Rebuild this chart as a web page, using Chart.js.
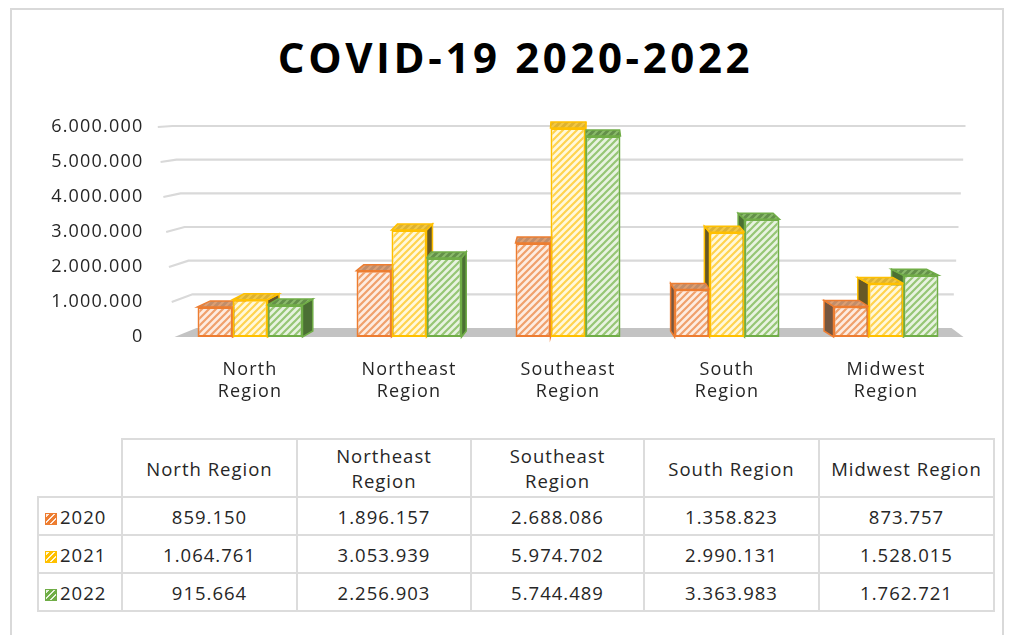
<!DOCTYPE html>
<html>
<head>
<meta charset="utf-8">
<script src="https://cdn.jsdelivr.net/npm/chart.js@4/dist/chart.umd.min.js"></script>
<style>
  html, body { margin: 0; padding: 0; background: #fff; }
  body { position: relative; width: 1010px; height: 635px; overflow: hidden; font-family: "Open Sans", sans-serif; color: #262626; }
  #frame { position: absolute; left: 10px; top: 8px; width: 994px; height: 660px; border: 2px solid #d9d9d9; box-sizing: border-box; }
  #title { position: absolute; left: 0; top: 36px; width: 1031px; text-align: center; font: 700 42px/42px "Open Sans", sans-serif; letter-spacing: 3.6px; color: #000; }
  #chartBox { position: absolute; left: 0; top: 0; width: 1010px; height: 430px; }
  #dataTable { position: absolute; left: 37px; top: 438px; border-collapse: collapse; table-layout: fixed; width: 956px;
               font: 400 18.5px "Open Sans", sans-serif; letter-spacing: 1px; color: #262626; }
  #dataTable td, #dataTable th { border: 2px solid #dcdcdc; text-align: center; padding: 0; font-weight: 400; }
  #dataTable th { height: 56px; line-height: 25px; }
  #dataTable td { height: 36px; }
  #dataTable th.corner { border-top: none; border-left: none; }
  #dataTable td.key { text-align: left; padding-left: 6px; white-space: nowrap; }
  .swatch { display: inline-block; width: 10px; height: 10px; margin-right: 3px; vertical-align: -1px; border: 1.5px solid; }
</style>
</head>
<body>
<div id="frame"></div>
<div id="title">COVID-19 2020-2022</div>
<div id="chartBox"><canvas id="chart" width="1010" height="430"></canvas></div>
<table id="dataTable"></table>
<script>
// ---- data ----
const regions = ['North Region', 'Northeast Region', 'Southeast Region', 'South Region', 'Midwest Region'];
const axisLabels = [['North', 'Region'], ['Northeast', 'Region'], ['Southeast', 'Region'], ['South', 'Region'], ['Midwest', 'Region']];
const tableHeaders = [['North Region'], ['Northeast', 'Region'], ['Southeast', 'Region'], ['South Region'], ['Midwest Region']];
const years = ['2020', '2021', '2022'];
const cases2020 = [859150, 1896157, 2688086, 1358823, 873757];
const cases2021 = [1064761, 3053939, 5974702, 2990131, 1528015];
const cases2022 = [915664, 2256903, 5744489, 3363983, 1762721];
const yTickValues = [0, 1000000, 2000000, 3000000, 4000000, 5000000, 6000000];

// ---- styling per series ----
const seriesStyle = [
  { line: '#ED7D31', bg: '#fdece1', stripe: '#f0a06c', topBg: '#c08d6b', topStripe: '#dc9f74', side: '#76563f' },
  { line: '#FFC000', bg: '#fff8dc', stripe: '#ffd34f', topBg: '#dcb232', topStripe: '#f2c845', side: '#665826' },
  { line: '#70AD47', bg: '#e8f3e0', stripe: '#96c675', topBg: '#64904a', topStripe: '#8aba6a', side: '#4b7034' }
];

function fmt(n) { return String(n).replace(/\B(?=(\d{3})+(?!\d))/g, '.'); }

// diagonal hatch tile ("/" stripes)
function hatch(bg, fg, size, lw) {
  const c = document.createElement('canvas');
  c.width = size; c.height = size;
  const g = c.getContext('2d');
  g.fillStyle = bg; g.fillRect(0, 0, size, size);
  g.strokeStyle = fg; g.lineWidth = lw; g.lineCap = 'square';
  g.beginPath();
  g.moveTo(0, size); g.lineTo(size, 0);
  g.moveTo(-size / 2, size / 2); g.lineTo(size / 2, -size / 2);
  g.moveTo(size / 2, size * 1.5); g.lineTo(size * 1.5, size / 2);
  g.stroke();
  return g.createPattern(c, 'repeat');
}

const ctx = document.getElementById('chart').getContext('2d');
const frontFills = seriesStyle.map(s => hatch(s.bg, s.stripe, 7, 2.2));
const topFills = seriesStyle.map(s => hatch(s.topBg, s.topStripe, 7, 2));

// ---- table under the chart ----
(function buildTable() {
  const t = document.getElementById('dataTable');
  let html = '<colgroup><col style="width:84px">' +
    '<col style="width:175px"><col style="width:174px"><col style="width:173px"><col style="width:175px"><col style="width:175px"></colgroup>';
  html += '<tr><th class="corner"></th>' + tableHeaders.map(h => '<th>' + h.join('<br>') + '</th>').join('') + '</tr>';
  const rows = [cases2020, cases2021, cases2022];
  rows.forEach((vals, i) => {
    const s = seriesStyle[i];
    const sw = '<span class="swatch" style="border-color:' + s.line + ';background:repeating-linear-gradient(-45deg,' +
      s.line + ' 0 3px,' + s.bg + ' 3px 4.5px)"></span>';
    html += '<tr><td class="key">' + sw + years[i] + '</td>' + vals.map(v => '<td>' + fmt(v) + '</td>').join('') + '</tr>';
  });
  t.innerHTML = html;
})();

// back wall gridlines, floor and the extruded faces of each column
const depthPlugin = {
  id: 'depth3d',
  beforeDraw(chart) { chart.ctx.letterSpacing = '1.2px'; },
  beforeDatasetsDraw(chart) {
    const c = chart.ctx;
    const area = chart.chartArea;
    const y = chart.scales.y;
    const bottom = area.bottom;
    const h = area.bottom - area.top;
    const backDrop = 9;
    const backScale = 0.962;
    c.save();
    // floor
    c.fillStyle = '#c3c3c3';
    c.beginPath();
    c.moveTo(area.left + 26, bottom - backDrop);
    c.lineTo(area.right - 14, bottom - backDrop);
    c.lineTo(area.right - 2, bottom);
    c.lineTo(area.left + 4, bottom);
    c.closePath();
    c.fill();
    // gridlines on the side and back walls
    c.strokeStyle = '#d9d9d9';
    c.lineWidth = 2.2;
    yTickValues.forEach(v => {
      if (v === 0) return;
      const fy = y.getPixelForValue(v);
      const f = (bottom - fy) / h;
      const by = bottom - backDrop - (bottom - fy) * backScale;
      const fx = area.left + 4 - f * 16.7;
      const bx = area.left + 26 - f * 24;
      const rx = area.right - 14 + f * 14;
      c.beginPath();
      c.moveTo(fx, fy);
      c.lineTo(bx, by);
      c.lineTo(rx, by);
      c.stroke();
    });
    // extruded faces
    const vx = area.left + 0.515 * (area.right - area.left);
    const dy = 6;
    const bars = [];
    chart.data.datasets.forEach((ds, di) => {
      const meta = chart.getDatasetMeta(di);
      meta.data.forEach(el => {
        const p = el.getProps(['x', 'y', 'base', 'width'], true);
        bars.push({ di, x: p.x, top: p.y, base: p.base, w: p.width });
      });
    });
    // side faces first
    bars.forEach(b => {
      const s = seriesStyle[b.di];
      const dx = (vx - b.x) * 0.035;
      const L = b.x - b.w / 2, R = b.x + b.w / 2;
      const ex = dx >= 0 ? R : L;
      c.fillStyle = s.side;
      c.strokeStyle = s.line;
      c.lineWidth = 1.5;
      c.beginPath();
      c.moveTo(ex, b.top);
      c.lineTo(ex + dx, b.top - dy);
      c.lineTo(ex + dx, b.base - dy);
      c.lineTo(ex, b.base);
      c.closePath();
      c.fill();
      c.stroke();
    });
    // then top faces
    bars.forEach(b => {
      const s = seriesStyle[b.di];
      const dx = (vx - b.x) * 0.035;
      const L = b.x - b.w / 2, R = b.x + b.w / 2;
      c.fillStyle = topFills[b.di];
      c.strokeStyle = s.line;
      c.lineWidth = 1.5;
      c.beginPath();
      c.moveTo(L, b.top);
      c.lineTo(L + dx, b.top - dy);
      c.lineTo(R + dx, b.top - dy);
      c.lineTo(R, b.top);
      c.closePath();
      c.fill();
      c.stroke();
    });
    c.restore();
  },
  afterDraw(chart) { chart.ctx.letterSpacing = '0px'; }
};

new Chart(ctx, {
  type: 'bar',
  data: {
    labels: axisLabels,
    datasets: [
      { label: years[0], data: cases2020 },
      { label: years[1], data: cases2021 },
      { label: years[2], data: cases2022 }
    ].map((d, i) => Object.assign(d, {
      backgroundColor: frontFills[i],
      borderColor: seriesStyle[i].line,
      borderWidth: 2,
      borderSkipped: false,
      categoryPercentage: 0.66,
      barPercentage: 1.0
    }))
  },
  options: {
    responsive: false,
    devicePixelRatio: 1,
    animation: false,
    layout: { padding: { top: 127, left: 0, right: 44.5, bottom: 8 } },
    plugins: {
      legend: { display: false },
      title: { display: false },
      tooltip: { enabled: false }
    },
    scales: {
      x: {
        grid: { display: false, drawTicks: false },
        border: { display: false },
        ticks: { color: '#262626', padding: 22, font: { family: 'Open Sans', size: 18, lineHeight: 1.2 }, maxRotation: 0, autoSkip: false },
        afterFit(s) { s.height = 85; }
      },
      y: {
        min: 0,
        max: 6000000,
        grid: { display: false, drawTicks: false },
        border: { display: false },
        afterBuildTicks(s) { s.ticks = yTickValues.map(v => ({ value: v })); },
        ticks: { color: '#262626', padding: 27, font: { family: 'Open Sans', size: 18 }, callback: v => fmt(v) },
        afterFit(s) { s.width = 170.5; }
      }
    }
  },
  plugins: [depthPlugin]
});
</script>
</body>
</html>
